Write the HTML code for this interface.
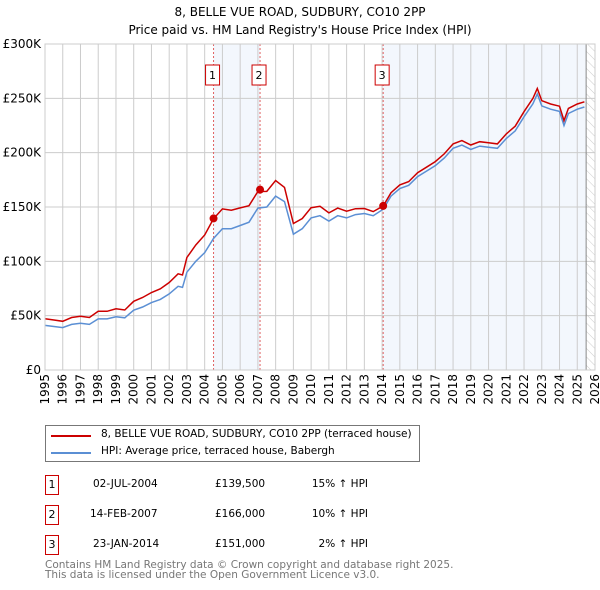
<!DOCTYPE html>
<html><head><meta charset="utf-8"><style>
body{margin:0;background:#fff;font-family:"DejaVu Sans","Liberation Sans",sans-serif;}
#wrap{position:relative;width:600px;height:590px;overflow:hidden}
.t{position:absolute;font-size:10.5px;color:#000;white-space:nowrap}
.box{position:absolute;border:1px solid #c00;width:12px;height:18px;font-size:11px;text-align:center;line-height:18px}
svg text{font-family:"DejaVu Sans","Liberation Sans",sans-serif}
</style></head><body><div id="wrap">
<div class="t" style="left:0;width:600px;text-align:center;top:3px;font-size:12px;line-height:18px">8, BELLE VUE ROAD, SUDBURY, CO10 2PP<br>Price paid vs. HM Land Registry's House Price Index (HPI)</div>
<svg id="svg" width="600" height="420" style="position:absolute;left:0;top:0"></svg>
<div style="position:absolute;left:45px;top:425px;width:373px;height:35px;border:1px solid #777">
<div style="position:absolute;left:5px;top:9px;width:40px;height:2px;background:#c00"></div>
<div class="t" style="left:55px;top:2px">8, BELLE VUE ROAD, SUDBURY, CO10 2PP (terraced house)</div>
<div style="position:absolute;left:5px;top:26px;width:40px;height:2px;background:#5b8fd4"></div>
<div class="t" style="left:55px;top:19px">HPI: Average price, terraced house, Babergh</div>
</div>
<div id="rows"></div>
<div class="t" style="left:45px;top:560px;color:#777;font-size:10.5px;line-height:10px">Contains HM Land Registry data © Crown copyright and database right 2025.<br>This data is licensed under the Open Government Licence v3.0.</div>
</div>
<script>
const hpiYears=[1995,1995.5,1996,1996.5,1997,1997.5,1998,1998.5,1999,1999.5,2000,2000.5,2001,2001.5,2002,2002.5,2002.75,2003,2003.5,2004,2004.5,2005,2005.5,2006,2006.5,2007,2007.5,2008,2008.5,2009,2009.5,2010,2010.5,2011,2011.5,2012,2012.5,2013,2013.5,2014.06,2014.5,2015,2015.5,2016,2016.5,2017,2017.5,2018,2018.5,2019,2019.5,2020,2020.5,2021,2021.5,2022,2022.5,2022.75,2023,2023.5,2024,2024.25,2024.5,2025,2025.4];
const hpiValues=[41,40,39,42,43,42,47,47,49,48,55,58,62,65,70,77,76,90,100,108,121,130,130,133,136,149,150,160,155,125,130,140,142,137,142,140,143,144,142,148,160,167,170,178,183,188,195,204,207,203,206,205,204,213,220,233,245,254,243,240,238,225,236,240,242];
const saleDates=[2004.5,2007.12,2014.06];
const saleLabels=["1","2","3"];
const salePrices=[139.5,166,151];
const saleRatios=[1.15,1.10,1.02];
const yTicks=[0,50,100,150,200,250,300];
const yTickLabels=["£0","£50K","£100K","£150K","£200K","£250K","£300K"];
const xTicks=[1995,1996,1997,1998,1999,2000,2001,2002,2003,2004,2005,2006,2007,2008,2009,2010,2011,2012,2013,2014,2015,2016,2017,2018,2019,2020,2021,2022,2023,2024,2025,2026];
const rowDates=["02-JUL-2004","14-FEB-2007","23-JAN-2014"];
const rowPrices=["£139,500","£166,000","£151,000"];
const rowPct=["15% ↑ HPI","10% ↑ HPI","2% ↑ HPI"];

const X=y=>45+(y-1995)*(550/31), Y=v=>370-v*(326/300);
const svg=document.getElementById('svg'),NS='http://www.w3.org/2000/svg';
function mk(t,a){const e=document.createElementNS(NS,t);for(const k in a)e.setAttribute(k,a[k]);svg.appendChild(e);return e;}
let e=mk('rect',{x:X(saleDates[0]),y:44,width:X(saleDates[1])-X(saleDates[0]),height:326,fill:'#eef3fc',opacity:0.7});

e=mk('rect',{x:X(saleDates[2]),y:44,width:X(2025.5)-X(saleDates[2]),height:326,fill:'#eef3fc',opacity:0.7});

const defs=mk('defs',{});defs.innerHTML='<pattern id="h" width="6" height="6" patternUnits="userSpaceOnUse" patternTransform="rotate(-45)"><line x1="0" y1="0" x2="0" y2="6" stroke="#ccc"/></pattern>';
e=mk('rect',{x:X(2025.5),y:44,width:X(2026)-X(2025.5),height:326,fill:'url(#h)'});

yTicks.forEach((v,i)=>{let l=mk('line',{x1:45,x2:X(2026),y1:Y(v),y2:Y(v),stroke:'#ccc'});

let t=mk('text',{x:41,y:Y(v)+4,'text-anchor':'end','font-size':12,fill:'#000'});t.textContent=yTickLabels[i];
});
xTicks.forEach(y=>{let l=mk('line',{x1:X(y),x2:X(y),y1:44,y2:370,stroke:'#ccc'});

let t=mk('text',{x:0,y:0,'text-anchor':'end','font-size':12,transform:`translate(${X(y)+4},374) rotate(-90)`});t.textContent=y;
});
e=mk('line',{x1:X(2025.5),x2:X(2025.5),y1:44,y2:370,stroke:'#888'});

saleDates.forEach((d,i)=>{let l=mk('line',{x1:X(d),x2:X(d),y1:44,y2:370,stroke:'#e06060','stroke-dasharray':'2,2'});

let r=mk('rect',{x:X(d)-8,y:65,width:14,height:20,fill:'#fff',stroke:'#c00'});

let t=mk('text',{x:X(d)-1,y:79,'text-anchor':'middle','font-size':11});t.textContent=saleLabels[i];
});
function ratio(y){if(y<=saleDates[0])return saleRatios[0];if(y>=saleDates[2])return saleRatios[2];
for(let i=0;i<2;i++)if(y<=saleDates[i+1]){const f=(y-saleDates[i])/(saleDates[i+1]-saleDates[i]);return saleRatios[i]+f*(saleRatios[i+1]-saleRatios[i]);}}
const hp=hpiYears.map((y,i)=>X(y).toFixed(1)+','+Y(hpiValues[i]).toFixed(1)).join(' ');
const rp=hpiYears.map((y,i)=>X(y).toFixed(1)+','+Y(hpiValues[i]*ratio(y)).toFixed(1)).join(' ');
e=mk('polyline',{points:hp,fill:'none',stroke:'#5b8fd4','stroke-width':1.5});

e=mk('polyline',{points:rp,fill:'none',stroke:'#c00','stroke-width':1.5});

saleDates.forEach((d,i)=>{let c=mk('circle',{cx:X(d),cy:Y(salePrices[i]),r:4,fill:'#c00'});
});
e=mk('rect',{x:45,y:44,width:X(2026)-45,height:326,fill:'none',stroke:'#ccc'});

const rows=document.getElementById('rows');
rowDates.forEach((d,i)=>{const top=475+i*30;
const r=document.createElement('div');r.style.cssText=`position:absolute;left:0;top:${top}px;width:600px;height:20px`;


r.innerHTML=`<div class="box" style="left:45px;top:0">${saleLabels[i]}</div><div class="t" style="left:${i==1?90:93}px;top:3px">${d}</div><div class="t" style="left:215px;top:3px">${rowPrices[i]}</div><div class="t" style="left:280px;width:88px;text-align:right;top:3px">${rowPct[i]}</div>`;
rows.appendChild(r);});
</script></body></html>
